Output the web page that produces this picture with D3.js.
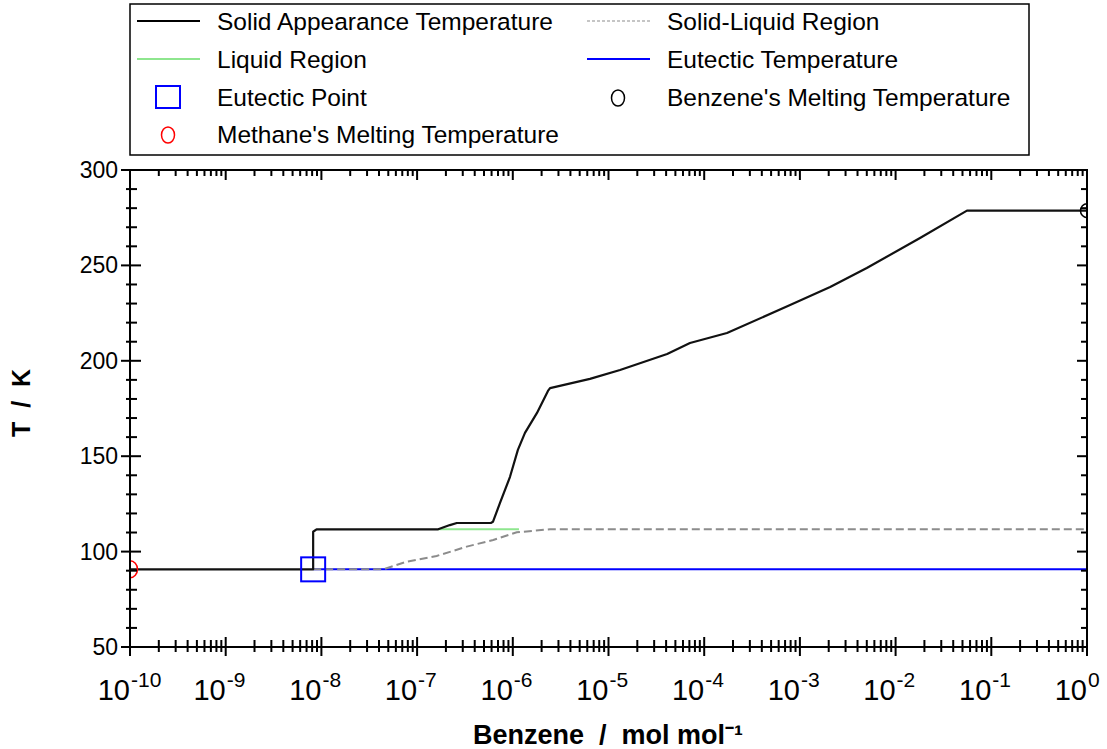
<!DOCTYPE html>
<html>
<head>
<meta charset="utf-8">
<script src="https://cdn.jsdelivr.net/npm/d3@7"></script>
<style>
  html, body { margin: 0; padding: 0; background: #fff; }
  svg { display: block; font-family: Arial, "Liberation Sans", sans-serif; }
</style>
</head>
<body>
<svg id="chart" width="1107" height="749"></svg>
<script>
// Benzene–methane binary phase diagram (mole fraction of benzene vs temperature)

// Solid appearance temperature [x (mol/mol), T (K)]
const solidAppearance = [
  [1e-10, 90.7], [8.2e-9, 90.7], [8.2e-9, 110.4], [8.9e-9, 111.7],
  [1.66e-7, 111.7], [2.2e-7, 113.9], [2.6e-7, 115.0], [5.9e-7, 115.0],
  [6.2e-7, 115.6], [7.35e-7, 125.5], [9.35e-7, 139.2], [1.13e-6, 153.3],
  [1.34e-6, 162.2], [1.79e-6, 172.7], [2.33e-6, 184.2], [2.45e-6, 185.7],
  [6.4e-6, 190.5], [1.32e-5, 195.2], [4.1e-5, 203.6], [7.1e-5, 209.3],
  [1.73e-4, 214.6], [7.9e-4, 229.2], [2.07e-3, 238.7], [5.0e-3, 248.6],
  [1.8e-2, 264.4], [5.57e-2, 278.7], [1, 278.7]
];

// Liquid region boundary
const liquidRegion = [[1.66e-7, 111.7], [1.16e-6, 111.7]];

// Solid–liquid region boundary
const solidLiquidRegion = [
  [8.2e-9, 90.7], [4.44e-8, 90.7], [7.78e-8, 94.7], [1.6e-7, 97.7],
  [3.3e-7, 102.6], [6.25e-7, 106.1], [1.1e-6, 110.1], [2.45e-6, 111.7],
  [1, 111.7]
];

// Eutectic temperature
const eutecticLine = [[8.2e-9, 90.7], [1, 90.7]];

// Single points
const eutecticPoint = [8.2e-9, 90.7];
const benzeneMelting = [1, 278.7];
const methaneMelting = [1e-10, 90.7];

// Axis ticks
const xDecades = d3.range(-10, 1);            // exponents of the labelled ticks
const yMajorTicks = [50, 100, 150, 200, 250, 300];
const yMinorTicks = d3.range(50, 301, 10);

const legendItems = [
  { label: "Solid Appearance Temperature", type: "line", color: "#000", dash: null, col: 0, row: 0 },
  { label: "Solid-Liquid Region", type: "line", color: "#8c8c8c", dash: "3,2", col: 1, row: 0 },
  { label: "Liquid Region", type: "line", color: "#8ee68e", dash: null, col: 0, row: 1 },
  { label: "Eutectic Temperature", type: "line", color: "#0000ff", dash: null, col: 1, row: 1 },
  { label: "Eutectic Point", type: "square", color: "#0000ff", col: 0, row: 2 },
  { label: "Benzene's Melting Temperature", type: "circle", color: "#000", col: 1, row: 2 },
  { label: "Methane's Melting Temperature", type: "circle", color: "#ff0000", col: 0, row: 3 }
];

const svg = d3.select("#chart");
const plot = { left: 130, right: 1087, top: 170, bottom: 647 };

const x = d3.scaleLog().domain([1e-10, 1]).range([plot.left, plot.right]);
const y = d3.scaleLinear().domain([50, 300]).range([plot.bottom, plot.top]);

svg.append("defs").append("clipPath").attr("id", "plotClip")
  .append("rect")
  .attr("x", plot.left).attr("y", plot.top)
  .attr("width", plot.right - plot.left).attr("height", plot.bottom - plot.top);

const line = d3.line().x(d => x(d[0])).y(d => y(d[1]));

const g = svg.append("g").attr("clip-path", "url(#plotClip)");

g.append("path").datum(eutecticLine).attr("d", line)
  .attr("fill", "none").attr("stroke", "#0000ff").attr("stroke-width", 2);
g.append("path").datum(solidLiquidRegion).attr("d", line)
  .attr("fill", "none").attr("stroke", "#8c8c8c").attr("stroke-width", 2)
  .attr("stroke-dasharray", "8,4");
g.append("path").datum(liquidRegion).attr("d", line)
  .attr("fill", "none").attr("stroke", "#8ee68e").attr("stroke-width", 2);
g.append("path").datum(solidAppearance).attr("d", line)
  .attr("fill", "none").attr("stroke", "#111").attr("stroke-width", 2.2)
  .attr("stroke-linejoin", "round");

// markers
g.append("rect")
  .attr("x", x(eutecticPoint[0]) - 12).attr("y", y(eutecticPoint[1]) - 12)
  .attr("width", 24).attr("height", 24)
  .attr("fill", "none").attr("stroke", "#0000ff").attr("stroke-width", 2);
g.append("ellipse")
  .attr("cx", x(benzeneMelting[0])).attr("cy", y(benzeneMelting[1]))
  .attr("rx", 6.5).attr("ry", 7)
  .attr("fill", "none").attr("stroke", "#000").attr("stroke-width", 1.5);
g.append("ellipse")
  .attr("cx", x(methaneMelting[0])).attr("cy", y(methaneMelting[1]))
  .attr("rx", 7.5).attr("ry", 8.5)
  .attr("fill", "none").attr("stroke", "#ff0000").attr("stroke-width", 1.5);

// axes frame
const axes = svg.append("g").attr("stroke", "#000").attr("stroke-width", 2).attr("fill", "none");
axes.append("rect")
  .attr("x", plot.left).attr("y", plot.top)
  .attr("width", plot.right - plot.left).attr("height", plot.bottom - plot.top);

// x ticks
const xMinor = [];
xDecades.slice(0, -1).forEach(e => {
  for (let m = 2; m <= 9; m++) xMinor.push(m * Math.pow(10, e));
});
const xMajor = xDecades.map(e => Math.pow(10, e));

xMajor.forEach(v => {
  const px = x(v);
  axes.append("line").attr("x1", px).attr("x2", px).attr("y1", plot.bottom - 10).attr("y2", plot.bottom + 9);
  axes.append("line").attr("x1", px).attr("x2", px).attr("y1", plot.top).attr("y2", plot.top + 10);
});
xMinor.forEach(v => {
  const px = x(v);
  axes.append("line").attr("x1", px).attr("x2", px).attr("y1", plot.bottom - 7).attr("y2", plot.bottom + 5);
  axes.append("line").attr("x1", px).attr("x2", px).attr("y1", plot.top).attr("y2", plot.top + 6);
});

// y ticks
yMinorTicks.filter(v => !yMajorTicks.includes(v)).forEach(v => {
  const py = y(v);
  axes.append("line").attr("x1", plot.left - 4).attr("x2", plot.left + 7).attr("y1", py).attr("y2", py);
  axes.append("line").attr("x1", plot.right - 6).attr("x2", plot.right).attr("y1", py).attr("y2", py);
});
yMajorTicks.forEach(v => {
  const py = y(v);
  axes.append("line").attr("x1", plot.left - 9).attr("x2", plot.left + 11).attr("y1", py).attr("y2", py);
  axes.append("line").attr("x1", plot.right - 10).attr("x2", plot.right).attr("y1", py).attr("y2", py);
});

// y tick labels
svg.append("g").selectAll("text").data(yMajorTicks).join("text")
  .attr("x", 118).attr("y", d => y(d) + 8)
  .attr("text-anchor", "end").attr("font-size", 23).attr("fill", "#000")
  .text(d => d);

// x tick labels: 10 with superscript exponent
const xl = svg.append("g").attr("fill", "#000");
xDecades.forEach(e => {
  const px = x(Math.pow(10, e));
  xl.append("text").attr("x", px).attr("y", 700)
    .attr("text-anchor", "end").attr("font-size", 29).text("10");
  xl.append("text").attr("x", px + 1).attr("y", 687)
    .attr("text-anchor", "start").attr("font-size", 21).text(e === 0 ? "0" : "-" + Math.abs(e));
});

// axis titles
svg.append("text")
  .attr("transform", `translate(30, 403) rotate(-90)`)
  .attr("text-anchor", "middle").attr("font-size", 25).attr("font-weight", "bold")
  .style("white-space", "pre")
  .text("T  /  K");
svg.append("text")
  .attr("x", 608).attr("y", 744)
  .attr("text-anchor", "middle").attr("font-size", 27).attr("font-weight", "bold")
  .style("white-space", "pre")
  .text("Benzene  /  mol mol⁻¹");

// legend
const lg = svg.append("g");
lg.append("rect").attr("x", 130).attr("y", 4).attr("width", 899).attr("height", 151)
  .attr("fill", "#fff").attr("stroke", "#000").attr("stroke-width", 1.5);
const colX = [137, 587];
const rowY = [21, 59, 97, 134];
legendItems.forEach(it => {
  const x0 = colX[it.col], yc = rowY[it.row];
  if (it.type === "line") {
    lg.append("line").attr("x1", x0).attr("x2", x0 + 63).attr("y1", yc).attr("y2", yc)
      .attr("stroke", it.color).attr("stroke-width", it.dash ? 1.2 : 2)
      .attr("stroke-dasharray", it.dash);
  } else if (it.type === "square") {
    lg.append("rect").attr("x", x0 + 19).attr("y", yc - 11).attr("width", 24).attr("height", 22)
      .attr("fill", "none").attr("stroke", it.color).attr("stroke-width", 2);
  } else {
    lg.append("ellipse").attr("cx", x0 + 31).attr("cy", yc + 1).attr("rx", 6.5).attr("ry", 8)
      .attr("fill", "none").attr("stroke", it.color).attr("stroke-width", 1.5);
  }
  lg.append("text").attr("x", x0 + 80).attr("y", yc + 9)
    .attr("font-size", 24.5).attr("fill", "#000").text(it.label);
});
</script>
</body>
</html>
